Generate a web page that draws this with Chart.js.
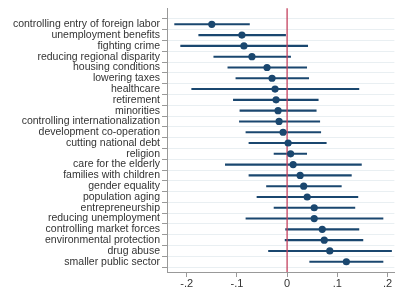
<!DOCTYPE html>
<html>
<head>
<meta charset="utf-8">
<script src="https://cdn.jsdelivr.net/npm/chart.js@4/dist/chart.umd.min.js"></script>
<style>
html,body{margin:0;padding:0;background:#fff;}
#wrap{width:398px;height:292px;}
</style>
</head>
<body>
<div id="wrap"><canvas id="c"></canvas></div>
<script>
const categories = [
  "controlling entry of foreign labor","unemployment benefits","fighting crime",
  "reducing regional disparity","housing conditions","lowering taxes","healthcare",
  "retirement","minorities","controlling internationalization","development co-operation",
  "cutting national debt","religion","care for the elderly","families with children",
  "gender equality","population aging","entrepreneurship","reducing unemployment",
  "controlling market forces","environmental protection","drug abuse","smaller public sector"
];
const estimates = [-0.150,-0.090,-0.086,-0.070,-0.040,-0.030,-0.024,-0.022,-0.018,-0.016,-0.008,0.002,0.007,0.012,0.026,0.033,0.040,0.054,0.054,0.070,0.074,0.085,0.118];
const lower = [-0.224,-0.176,-0.212,-0.146,-0.118,-0.102,-0.190,-0.107,-0.094,-0.095,-0.082,-0.076,-0.026,-0.123,-0.076,-0.041,-0.060,-0.026,-0.082,-0.003,-0.004,-0.037,0.045];
const upper = [-0.075,-0.003,0.041,0.007,0.039,0.043,0.143,0.062,0.058,0.065,0.067,0.078,0.039,0.148,0.128,0.108,0.141,0.135,0.191,0.143,0.151,0.208,0.191];
const xTickValues = [-0.2,-0.1,0,0.1,0.2];
const xTickLabels = ["-.2","-.1","0",".1",".2"];

const navy = "#1a476f";
const whiskers = categories.map((c,i)=>({x:[lower[i],upper[i]], y:i}));
const points = categories.map((c,i)=>({x:estimates[i], y:i}));

new Chart(document.getElementById('c'), {
  type: 'bar',
  data: {
    datasets: [
      {type:'scatter', data: points, backgroundColor: navy, borderWidth:0, pointRadius:3.6, pointHoverRadius:3.6, order:0},
      {type:'bar', data: whiskers, backgroundColor: navy, barThickness:1.4, borderWidth:0, order:2},
      {type:'line', data:[{x:0,y:-2},{x:0,y:30}], borderColor:"#c4415e", borderWidth:1.3, pointRadius:0, order:1}
    ]
  },
  options: {
    indexAxis: 'y',
    responsive: true,
    maintainAspectRatio: false,
    animation: false,
    events: [],
    layout: {padding:{top:2,right:0,bottom:0,left:0}},
    plugins: {legend:{display:false}, tooltip:{enabled:false}},
    scales: {
      x: {
        type:'linear', min:-0.2392, max:0.2137,
        afterBuildTicks: s => { s.ticks = xTickValues.map(v=>({value:v})); },
        afterFit: s => { s.height = 20; },
        ticks: {
          callback: (v, i) => xTickLabels[i],
          color:"#333", font:{family:"Liberation Sans, Arial", size:11}, padding:0, maxRotation:0, autoSkip:false
        },
        grid: {drawOnChartArea:false, drawTicks:true, tickLength:5, tickColor:"#999", tickWidth:1},
        border: {color:"#999", width:1}
      },
      y: {
        type:'linear', reverse:true, min:-0.952, max:22.42,
        afterBuildTicks: s => { s.ticks = categories.map((c,i)=>({value:i})); },
        afterFit: s => { s.width = 167; },
        ticks: {
          callback: (v) => categories[v],
          color:"#333", font:{family:"Liberation Sans, Arial", size:10.5}, padding:2, autoSkip:false
        },
        grid: {color:"#e9eff2", lineWidth:1, drawTicks:true, tickLength:5, tickColor:"#999"},
        border: {color:"#999", width:1}
      }
    }
  }
});
</script>
</body>
</html>
